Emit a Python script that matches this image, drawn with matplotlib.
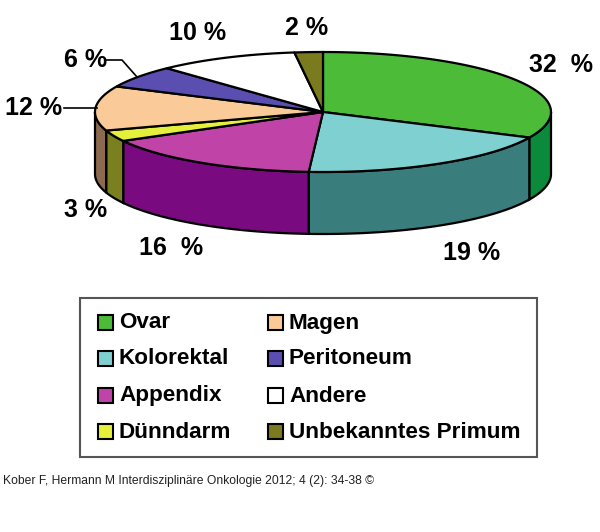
import numpy as np
import matplotlib.pyplot as plt
from matplotlib.patches import Polygon, Rectangle

# data
labels = ['Ovar', 'Kolorektal', 'Appendix', 'Dünndarm',
          'Magen', 'Peritoneum', 'Andere', 'Unbekanntes Primum']
values = [32, 19, 16, 3, 12, 6, 10, 2]
pct_text = ['32  %', '19 %', '16  %', '3 %', '12 %', '6 %', '10 %', '2 %']
top_colors = ['#4cbb38', '#7fd1d1', '#c044a8', '#e4f03c',
              '#facb98', '#5a4fb0', '#ffffff', '#7a7a1e']
side_colors = ['#0b8a3c', '#3a7d7d', '#7a0a80', '#7a8020',
               '#8c6a50', '#2e2870', '#999999', '#4a4a10']
source = 'Kober F, Hermann M Interdisziplinäre Onkologie 2012; 4 (2): 34-38 ©'

plt.rcParams['font.family'] = ['Liberation Sans', 'DejaVu Sans']

W, H = 600, 532
fig = plt.figure(figsize=(W / 100, H / 100), dpi=100)
ax = fig.add_axes([0, 0, 1, 1])
ax.set_xlim(0, W)
ax.set_ylim(H, 0)
ax.axis('off')

# ellipse geometry (pixels)
cx, cy, a, b, depth = 323, 112, 228, 60, 62


def pt(theta_deg, dz=0):
    t = np.radians(theta_deg)
    return cx + a * np.cos(t), cy - b * np.sin(t) + dz


total = sum(values)
cum = np.concatenate([[0], np.cumsum(values)])
starts = 90 - 360 * cum[:-1] / total
ends = 90 - 360 * cum[1:] / total

# front sides
for s, e, sc in zip(starts, ends, side_colors):
    hi, lo = min(s, 0), max(e, -180)
    if hi <= lo:
        continue
    th = np.linspace(hi, lo, 60)
    top = [pt(t) for t in th]
    bot = [pt(t, depth) for t in th[::-1]]
    ax.add_patch(Polygon(top + bot, closed=True, facecolor=sc,
                         edgecolor='black', lw=1.6, zorder=2))

# top wedges
for s, e, tc in zip(starts, ends, top_colors):
    th = np.linspace(s, e, 80)
    verts = [(cx, cy)] + [pt(t) for t in th]
    ax.add_patch(Polygon(verts, closed=True, facecolor=tc,
                         edgecolor='black', lw=1.6, joinstyle='round', zorder=3))

# percentage labels
label_pos = [(561, 65), (472, 253), (171, 248), (86, 210),
             (34, 108), (86, 60), (198, 33), (307, 28)]
for txt, (x, y) in zip(pct_text, label_pos):
    ax.text(x, y, txt, ha='center', va='center', fontsize=18,
            fontweight='bold', zorder=5)

# leader lines
ax.plot([64, 97], [108, 108], color='black', lw=1.2, zorder=4)
ax.plot([106, 122, 137], [60, 60, 77], color='black', lw=1.2, zorder=4)

# legend box
ax.add_patch(Rectangle((80, 298), 457, 159, facecolor='white',
                       edgecolor='#555555', lw=1.5, zorder=1))
col_x = [98, 268]
row_y = [322, 358, 395, 431]
for i, (lab, tc) in enumerate(zip(labels, top_colors)):
    x = col_x[i // 4]
    y = row_y[i % 4]
    ax.add_patch(Rectangle((x, y - 7.5), 15, 15, facecolor=tc,
                           edgecolor='black', lw=1.5, zorder=3))
    ax.text(x + 21, y + 1, lab, ha='left', va='center', fontsize=16.2,
            fontweight='bold', zorder=3)

ax.text(3, 481, source, ha='left', va='center', fontsize=8.7, color='#222222')

fig.savefig('out.png', dpi=100)
